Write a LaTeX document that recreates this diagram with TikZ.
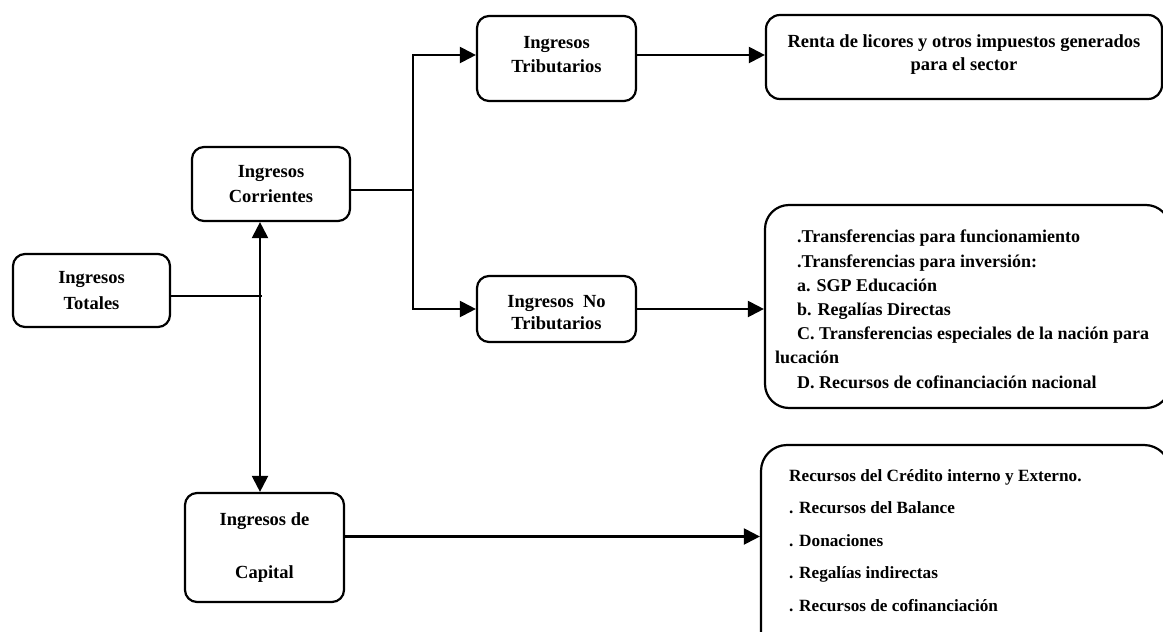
\documentclass[tikz,border=0pt]{standalone}
\usepackage{fontspec}
\setmainfont{Liberation Serif}
\usepackage{tikz}
\usetikzlibrary{arrows.meta}
\usetikzlibrary{positioning,calc}

\begin{document}
\begin{tikzpicture}[x=1pt,y=-1pt,
	caja/.style={draw,line width=2.2pt,rounded corners=12pt,inner sep=0pt,align=center},
	cajagrande/.style={draw,line width=2.2pt,rounded corners=#1,inner sep=0pt},
	texto/.style={font=\fontsize{18.5}{#1}\selectfont\bfseries},
	flecha/.style={line width=2.2pt,-{Triangle[length=16pt,width=16pt]}},
	flechados/.style={line width=2.2pt,{Triangle[length=16pt,width=16pt]}-{Triangle[length=16pt,width=16pt]}},
	linea/.style={line width=1.4pt}]
	\useasboundingbox (0,0) rectangle (1163,632);
	\clip (0,0) rectangle (1163,632);
	\node[caja,texto=26,minimum width=157pt,minimum height=73pt] (tot) at (91.5,290.5) {Ingresos\\Totales};
	\node[caja,texto=25,minimum width=158pt,minimum height=74pt] (corr) at (271,184) {Ingresos\\Corrientes};
	\node[caja,texto=24,text depth=8pt,minimum width=159pt,minimum height=85pt] (trib) at (556.5,58.5) {Ingresos\\Tributarios};
	\node[caja,texto=26,minimum width=159pt,minimum height=109pt] (cap) at (264.5,547.5) {Ingresos de\\[27pt]Capital};
	\node[caja,minimum width=159pt,minimum height=66pt] (notrib) at (556.5,309) {};
	\begin{scope}
		\clip (notrib.north west) rectangle ([yshift=13pt]notrib.south east);
		\node[texto=22,align=center] (notribtxt) at ([yshift=-4pt]notrib.center) {Ingresos\ \ No\\Tributarios};
	\end{scope}
	\node[cajagrande=14pt,texto=23,text depth=8pt,align=center,minimum width=396pt,minimum height=84pt] (renta) at (964,57) {Renta de licores y otros impuestos generados\\para el sector};
	\node[cajagrande=24pt,minimum width=405pt,minimum height=203pt] (transf) at (967.5,306.5) {};
	\node[anchor=north west,inner sep=0pt,align=left,font=\fontsize{18}{24.2}\selectfont\bfseries] (transftxt) at (775,230) {\hspace*{22pt}.Transferencias para funcionamiento\\
		\hspace*{22pt}.Transferencias para inversión:\\
		\hspace*{22pt}a. SGP Educación\\
		\hspace*{22pt}b. Regalías Directas\\
		\hspace*{22pt}C. Transferencias especiales de la nación para\\
		lucación\\
		\hspace*{22pt}D. Recursos de cofinanciación nacional};
	\node[cajagrande=26pt,minimum width=409pt,minimum height=235pt] (cred) at (965.5,562.5) {};
	\node[anchor=north west,inner sep=0pt,align=left,font=\fontsize{17.2}{32.5}\selectfont\bfseries] (credtxt) at (789,469) {Recursos del Crédito interno y Externo.\\
		. Recursos del Balance\\
		. Donaciones\\
		. Regalías indirectas\\
		. Recursos de cofinanciación};
	\coordinate (eje) at (260,296);
	\coordinate (bus) at (413,190);
	\draw[linea] (tot.east |- eje) -- ([xshift=2pt]eje);
	\draw[flechados] (eje |- cap.north) -- (eje |- corr.south);
	\draw[linea] (corr.east |- bus) -- (bus);
	\draw[flecha] (bus) |- ([yshift=3.5pt]trib.west);
	\draw[flecha] (bus) |- (notrib.west);
	\draw[flecha] ([yshift=3.5pt]trib.east) -- ([yshift=3.5pt]trib.east -| renta.west);
	\draw[flecha] (notrib.east) -- (notrib.east -| transf.west);
	\draw[flecha] ([yshift=11pt]cap.east) -- ([yshift=11pt]cap.east -| cred.west);
\end{tikzpicture}
\end{document}
